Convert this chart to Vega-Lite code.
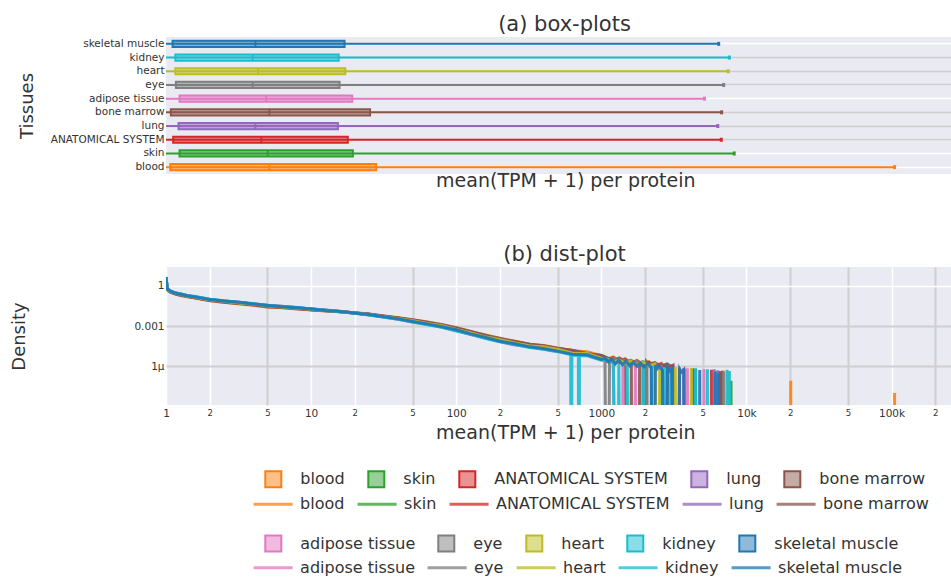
{
"$schema": "https://vega.github.io/schema/vega-lite/v6.json",
"background": "white",
"padding": {"left": 10, "top": 14, "right": 0, "bottom": 0},
"config": {
  "font": "DejaVu Sans",
  "view": {"stroke": null, "fill": "#EAEAF2"},
  "axis": {"labelColor": "#333333", "titleColor": "#333333", "titleFontWeight": "normal", "domain": false, "ticks": false, "labelFontSize": 10.5},
  "legend": {"padding": 0, "labelColor": "#333333", "labelFontSize": 16, "labelLimit": 400},
  "title": {"fontSize": 21, "fontWeight": "normal", "color": "#333333", "baseline": "alphabetic", "offset": 2, "anchor": "middle", "frame": "group", "dx": 6}
},
"datasets": {
"box": [
{"t":"blood","lo":1,"q1":1.07,"med":5.16,"q3":28.1,"hi":105000},
{"t":"skin","lo":1,"q1":1.24,"med":5.02,"q3":19.4,"hi":8240},
{"t":"ANATOMICAL SYSTEM","lo":1,"q1":1.12,"med":4.54,"q3":17.9,"hi":6710},
{"t":"lung","lo":1,"q1":1.22,"med":4.13,"q3":15.3,"hi":6350},
{"t":"bone marrow","lo":1,"q1":1.08,"med":5.16,"q3":25.5,"hi":6750},
{"t":"adipose tissue","lo":1,"q1":1.24,"med":4.9,"q3":19.2,"hi":5140},
{"t":"eye","lo":1,"q1":1.17,"med":3.96,"q3":15.7,"hi":6970},
{"t":"heart","lo":1,"q1":1.16,"med":4.31,"q3":17.2,"hi":7490},
{"t":"kidney","lo":1,"q1":1.16,"med":3.96,"q3":15.5,"hi":7630},
{"t":"skeletal muscle","lo":1,"q1":1.11,"med":4.13,"q3":17.0,"hi":6440}
],
"dist": [
{"t":"blood","x":1,"d":4.3},{"t":"blood","x":1.02,"d":0.53},{"t":"blood","x":1.07,"d":0.34},{"t":"blood","x":1.15,"d":0.25},{"t":"blood","x":1.26,"d":0.2},{"t":"blood","x":1.4,"d":0.15},{"t":"blood","x":1.6,"d":0.121},{"t":"blood","x":2,"d":0.077},{"t":"blood","x":2.5,"d":0.06},{"t":"blood","x":3.2,"d":0.044},{"t":"blood","x":4,"d":0.036},{"t":"blood","x":5,"d":0.027},{"t":"blood","x":6.3,"d":0.023},{"t":"blood","x":8,"d":0.0185},{"t":"blood","x":10,"d":0.0158},{"t":"blood","x":12.6,"d":0.0131},{"t":"blood","x":16,"d":0.0116},{"t":"blood","x":20,"d":0.0093},{"t":"blood","x":25,"d":0.0074},{"t":"blood","x":32,"d":0.0054},{"t":"blood","x":40,"d":0.004},{"t":"blood","x":50,"d":0.0028},{"t":"blood","x":63,"d":0.0019},{"t":"blood","x":80,"d":0.00125},{"t":"blood","x":100,"d":0.00073},{"t":"blood","x":126,"d":0.00038},{"t":"blood","x":160,"d":0.000213},{"t":"blood","x":200,"d":0.000115},{"t":"blood","x":250,"d":7.7e-5},{"t":"blood","x":320,"d":4.4e-5},{"t":"blood","x":400,"d":3.6e-5},{"t":"blood","x":500,"d":2.3e-5},{"t":"blood","x":630,"d":1.42e-5},{"t":"blood","x":800,"d":1.19e-5},{"t":"blood","x":1000,"d":6.1e-6},
{"t":"blood","x":1100,"d":3.6e-6},{"t":"blood","x":1210,"d":5.0e-6},{"t":"blood","x":1330,"d":2.4e-6},{"t":"blood","x":1460,"d":3.6e-6},{"t":"blood","x":1600,"d":1.7e-6},{"t":"blood","x":1760,"d":2.8e-6},{"t":"blood","x":1940,"d":1.3e-6},{"t":"blood","x":2130,"d":2.2e-6},{"t":"blood","x":2340,"d":1.0e-6},{"t":"blood","x":2580,"d":1.6e-6},{"t":"blood","x":2650,"d":1e-30},{"t":"blood","x":2840,"d":1e-30},{"t":"blood","x":2900,"d":9e-7},{"t":"blood","x":2960,"d":1e-30},{"t":"blood","x":3700,"d":1e-30},{"t":"blood","x":3760,"d":6.5e-7},{"t":"blood","x":3820,"d":1e-30},{"t":"blood","x":6800,"d":1e-30},{"t":"blood","x":6880,"d":5e-7},{"t":"blood","x":6960,"d":1e-30},{"t":"blood","x":20000,"d":1e-30},{"t":"blood","x":20200,"d":8.5e-8},{"t":"blood","x":20400,"d":1e-30},{"t":"blood","x":104000,"d":1e-30},{"t":"blood","x":105000,"d":1e-8},{"t":"blood","x":106000,"d":1e-30},
{"t":"skin","x":1,"d":4.2},{"t":"skin","x":1.02,"d":0.56},{"t":"skin","x":1.07,"d":0.39},{"t":"skin","x":1.15,"d":0.28},{"t":"skin","x":1.26,"d":0.235},{"t":"skin","x":1.4,"d":0.174},{"t":"skin","x":1.6,"d":0.141},{"t":"skin","x":2,"d":0.088},{"t":"skin","x":2.5,"d":0.071},{"t":"skin","x":3.2,"d":0.0525},{"t":"skin","x":4,"d":0.0425},{"t":"skin","x":5,"d":0.033},{"t":"skin","x":6.3,"d":0.0263},{"t":"skin","x":8,"d":0.0219},{"t":"skin","x":10,"d":0.0186},{"t":"skin","x":12.6,"d":0.0148},{"t":"skin","x":16,"d":0.0117},{"t":"skin","x":20,"d":0.0095},{"t":"skin","x":25,"d":0.0074},{"t":"skin","x":32,"d":0.005},{"t":"skin","x":40,"d":0.0038},{"t":"skin","x":50,"d":0.0026},{"t":"skin","x":63,"d":0.00166},{"t":"skin","x":80,"d":0.00112},{"t":"skin","x":100,"d":0.00059},{"t":"skin","x":126,"d":0.00035},{"t":"skin","x":160,"d":0.000174},{"t":"skin","x":200,"d":9.2e-5},{"t":"skin","x":250,"d":6.2e-5},{"t":"skin","x":320,"d":4.3e-5},{"t":"skin","x":400,"d":2.7e-5},{"t":"skin","x":500,"d":2.05e-5},{"t":"skin","x":630,"d":1.4e-5},{"t":"skin","x":800,"d":7.9e-6},{"t":"skin","x":1000,"d":6.6e-6},
{"t":"skin","x":1100,"d":4.2e-6},{"t":"skin","x":1210,"d":2.3e-6},{"t":"skin","x":1330,"d":3.5e-6},{"t":"skin","x":1460,"d":1.9e-6},{"t":"skin","x":1600,"d":2.8e-6},{"t":"skin","x":1760,"d":1.5e-6},{"t":"skin","x":1940,"d":2.2e-6},{"t":"skin","x":2130,"d":1.2e-6},{"t":"skin","x":2340,"d":1.7e-6},{"t":"skin","x":2580,"d":9e-7},{"t":"skin","x":2840,"d":1.3e-6},{"t":"skin","x":3000,"d":1e-30},{"t":"skin","x":3120,"d":9e-7},{"t":"skin","x":3240,"d":1e-30},{"t":"skin","x":4320,"d":1e-30},{"t":"skin","x":4380,"d":6e-7},{"t":"skin","x":4440,"d":1e-30},{"t":"skin","x":7780,"d":1e-30},{"t":"skin","x":7834,"d":8.5e-8},{"t":"skin","x":7890,"d":1e-30},
{"t":"ANATOMICAL SYSTEM","x":1,"d":4.25},{"t":"ANATOMICAL SYSTEM","x":1.02,"d":0.54},{"t":"ANATOMICAL SYSTEM","x":1.07,"d":0.37},{"t":"ANATOMICAL SYSTEM","x":1.15,"d":0.263},{"t":"ANATOMICAL SYSTEM","x":1.26,"d":0.214},{"t":"ANATOMICAL SYSTEM","x":1.4,"d":0.17},{"t":"ANATOMICAL SYSTEM","x":1.6,"d":0.129},{"t":"ANATOMICAL SYSTEM","x":2,"d":0.087},{"t":"ANATOMICAL SYSTEM","x":2.5,"d":0.0676},{"t":"ANATOMICAL SYSTEM","x":3.2,"d":0.05},{"t":"ANATOMICAL SYSTEM","x":4,"d":0.0407},{"t":"ANATOMICAL SYSTEM","x":5,"d":0.0295},{"t":"ANATOMICAL SYSTEM","x":6.3,"d":0.0257},{"t":"ANATOMICAL SYSTEM","x":8,"d":0.0214},{"t":"ANATOMICAL SYSTEM","x":10,"d":0.0166},{"t":"ANATOMICAL SYSTEM","x":12.6,"d":0.0141},{"t":"ANATOMICAL SYSTEM","x":16,"d":0.012},{"t":"ANATOMICAL SYSTEM","x":20,"d":0.0091},{"t":"ANATOMICAL SYSTEM","x":25,"d":0.0074},{"t":"ANATOMICAL SYSTEM","x":32,"d":0.0051},{"t":"ANATOMICAL SYSTEM","x":40,"d":0.0038},{"t":"ANATOMICAL SYSTEM","x":50,"d":0.0027},{"t":"ANATOMICAL SYSTEM","x":63,"d":0.00174},{"t":"ANATOMICAL SYSTEM","x":80,"d":0.00115},{"t":"ANATOMICAL SYSTEM","x":100,"d":0.00063},{"t":"ANATOMICAL SYSTEM","x":126,"d":0.00037},{"t":"ANATOMICAL SYSTEM","x":160,"d":0.000182},{"t":"ANATOMICAL SYSTEM","x":200,"d":9.2e-5},{"t":"ANATOMICAL SYSTEM","x":250,"d":6.9e-5},{"t":"ANATOMICAL SYSTEM","x":320,"d":4.0e-5},{"t":"ANATOMICAL SYSTEM","x":400,"d":3.2e-5},{"t":"ANATOMICAL SYSTEM","x":500,"d":2.1e-5},{"t":"ANATOMICAL SYSTEM","x":630,"d":1.48e-5},{"t":"ANATOMICAL SYSTEM","x":800,"d":8.6e-6},{"t":"ANATOMICAL SYSTEM","x":1000,"d":6.2e-6},
{"t":"ANATOMICAL SYSTEM","x":1100,"d":3.0e-6},{"t":"ANATOMICAL SYSTEM","x":1210,"d":4.3e-6},{"t":"ANATOMICAL SYSTEM","x":1330,"d":2.2e-6},{"t":"ANATOMICAL SYSTEM","x":1460,"d":3.3e-6},{"t":"ANATOMICAL SYSTEM","x":1600,"d":1.6e-6},{"t":"ANATOMICAL SYSTEM","x":1760,"d":2.5e-6},{"t":"ANATOMICAL SYSTEM","x":1940,"d":1.3e-6},{"t":"ANATOMICAL SYSTEM","x":2130,"d":2.0e-6},{"t":"ANATOMICAL SYSTEM","x":2340,"d":1.0e-6},{"t":"ANATOMICAL SYSTEM","x":2580,"d":1.5e-6},{"t":"ANATOMICAL SYSTEM","x":2840,"d":8e-7},{"t":"ANATOMICAL SYSTEM","x":3120,"d":1.2e-6},{"t":"ANATOMICAL SYSTEM","x":3250,"d":1e-30},{"t":"ANATOMICAL SYSTEM","x":3400,"d":1e-30},{"t":"ANATOMICAL SYSTEM","x":3450,"d":8e-7},{"t":"ANATOMICAL SYSTEM","x":3500,"d":1e-30},{"t":"ANATOMICAL SYSTEM","x":5700,"d":1e-30},{"t":"ANATOMICAL SYSTEM","x":5741,"d":5.5e-7},{"t":"ANATOMICAL SYSTEM","x":5780,"d":1e-30},{"t":"ANATOMICAL SYSTEM","x":6430,"d":1e-30},{"t":"ANATOMICAL SYSTEM","x":6471,"d":4.5e-7},{"t":"ANATOMICAL SYSTEM","x":6510,"d":1e-30},{"t":"ANATOMICAL SYSTEM","x":6680,"d":1e-30},{"t":"ANATOMICAL SYSTEM","x":6710,"d":3.5e-7},{"t":"ANATOMICAL SYSTEM","x":6740,"d":1e-30},
{"t":"lung","x":1,"d":4.17},{"t":"lung","x":1.02,"d":0.59},{"t":"lung","x":1.07,"d":0.41},{"t":"lung","x":1.15,"d":0.295},{"t":"lung","x":1.26,"d":0.245},{"t":"lung","x":1.4,"d":0.18},{"t":"lung","x":1.6,"d":0.145},{"t":"lung","x":2,"d":0.098},{"t":"lung","x":2.5,"d":0.072},{"t":"lung","x":3.2,"d":0.059},{"t":"lung","x":4,"d":0.0437},{"t":"lung","x":5,"d":0.0347},{"t":"lung","x":6.3,"d":0.03},{"t":"lung","x":8,"d":0.0229},{"t":"lung","x":10,"d":0.0182},{"t":"lung","x":12.6,"d":0.0155},{"t":"lung","x":16,"d":0.0119},{"t":"lung","x":20,"d":0.0093},{"t":"lung","x":25,"d":0.0068},{"t":"lung","x":32,"d":0.0046},{"t":"lung","x":40,"d":0.0032},{"t":"lung","x":50,"d":0.002},{"t":"lung","x":63,"d":0.00138},{"t":"lung","x":80,"d":0.00079},{"t":"lung","x":100,"d":0.00047},{"t":"lung","x":126,"d":0.00023},{"t":"lung","x":160,"d":0.000129},{"t":"lung","x":200,"d":7.0e-5},{"t":"lung","x":250,"d":4.0e-5},{"t":"lung","x":320,"d":2.9e-5},{"t":"lung","x":400,"d":1.9e-5},{"t":"lung","x":500,"d":1.26e-5},{"t":"lung","x":630,"d":1.0e-5},{"t":"lung","x":800,"d":6.3e-6},{"t":"lung","x":1000,"d":5.3e-6},
{"t":"lung","x":1100,"d":2.4e-6},{"t":"lung","x":1210,"d":3.3e-6},{"t":"lung","x":1330,"d":1.7e-6},{"t":"lung","x":1460,"d":2.6e-6},{"t":"lung","x":1600,"d":1.3e-6},{"t":"lung","x":1760,"d":2.0e-6},{"t":"lung","x":1940,"d":1.0e-6},{"t":"lung","x":2130,"d":1.6e-6},{"t":"lung","x":2340,"d":8e-7},{"t":"lung","x":2580,"d":1.2e-6},{"t":"lung","x":2700,"d":1e-30},{"t":"lung","x":2840,"d":9e-7},{"t":"lung","x":2950,"d":1e-30},{"t":"lung","x":3640,"d":1e-30},{"t":"lung","x":3697,"d":7e-7},{"t":"lung","x":3750,"d":1e-30},{"t":"lung","x":5950,"d":1e-30},{"t":"lung","x":6000,"d":6e-7},{"t":"lung","x":6050,"d":1e-30},{"t":"lung","x":6300,"d":1e-30},{"t":"lung","x":6350,"d":5e-7},{"t":"lung","x":6400,"d":1e-30},
{"t":"bone marrow","x":1,"d":4.2},{"t":"bone marrow","x":1.02,"d":0.5},{"t":"bone marrow","x":1.07,"d":0.33},{"t":"bone marrow","x":1.15,"d":0.256},{"t":"bone marrow","x":1.26,"d":0.19},{"t":"bone marrow","x":1.4,"d":0.155},{"t":"bone marrow","x":1.6,"d":0.12},{"t":"bone marrow","x":2,"d":0.081},{"t":"bone marrow","x":2.5,"d":0.058},{"t":"bone marrow","x":3.2,"d":0.0468},{"t":"bone marrow","x":4,"d":0.0363},{"t":"bone marrow","x":5,"d":0.0263},{"t":"bone marrow","x":6.3,"d":0.0239},{"t":"bone marrow","x":8,"d":0.019},{"t":"bone marrow","x":10,"d":0.0162},{"t":"bone marrow","x":12.6,"d":0.0135},{"t":"bone marrow","x":16,"d":0.0117},{"t":"bone marrow","x":20,"d":0.0098},{"t":"bone marrow","x":25,"d":0.0078},{"t":"bone marrow","x":32,"d":0.0056},{"t":"bone marrow","x":40,"d":0.0042},{"t":"bone marrow","x":50,"d":0.0029},{"t":"bone marrow","x":63,"d":0.002},{"t":"bone marrow","x":80,"d":0.00123},{"t":"bone marrow","x":100,"d":0.00074},{"t":"bone marrow","x":126,"d":0.00039},{"t":"bone marrow","x":160,"d":0.0002},{"t":"bone marrow","x":200,"d":0.000122},{"t":"bone marrow","x":250,"d":7.3e-5},{"t":"bone marrow","x":320,"d":4.4e-5},{"t":"bone marrow","x":400,"d":3.4e-5},{"t":"bone marrow","x":500,"d":2.1e-5},{"t":"bone marrow","x":630,"d":1.58e-5},{"t":"bone marrow","x":800,"d":8.8e-6},{"t":"bone marrow","x":1000,"d":6.2e-6},
{"t":"bone marrow","x":1100,"d":4.0e-6},{"t":"bone marrow","x":1210,"d":2.6e-6},{"t":"bone marrow","x":1330,"d":4.2e-6},{"t":"bone marrow","x":1460,"d":2.3e-6},{"t":"bone marrow","x":1540,"d":1e-30},{"t":"bone marrow","x":1580,"d":1e-30},{"t":"bone marrow","x":1610,"d":2.0e-6},{"t":"bone marrow","x":1640,"d":1e-30},{"t":"bone marrow","x":1800,"d":1e-30},{"t":"bone marrow","x":1836,"d":1.7e-6},{"t":"bone marrow","x":1870,"d":1e-30},{"t":"bone marrow","x":2000,"d":1e-30},{"t":"bone marrow","x":2050,"d":2.2e-6},{"t":"bone marrow","x":2130,"d":1.4e-6},{"t":"bone marrow","x":2340,"d":1.9e-6},{"t":"bone marrow","x":2580,"d":1.0e-6},{"t":"bone marrow","x":2840,"d":1.5e-6},{"t":"bone marrow","x":3120,"d":8e-7},{"t":"bone marrow","x":3250,"d":1e-30},{"t":"bone marrow","x":4200,"d":1e-30},{"t":"bone marrow","x":4250,"d":7e-7},{"t":"bone marrow","x":4300,"d":1e-30},{"t":"bone marrow","x":6700,"d":1e-30},{"t":"bone marrow","x":6750,"d":4.5e-7},{"t":"bone marrow","x":6800,"d":1e-30},
{"t":"adipose tissue","x":1,"d":4.3},{"t":"adipose tissue","x":1.02,"d":0.59},{"t":"adipose tissue","x":1.07,"d":0.39},{"t":"adipose tissue","x":1.15,"d":0.3},{"t":"adipose tissue","x":1.26,"d":0.23},{"t":"adipose tissue","x":1.4,"d":0.19},{"t":"adipose tissue","x":1.6,"d":0.141},{"t":"adipose tissue","x":2,"d":0.095},{"t":"adipose tissue","x":2.5,"d":0.069},{"t":"adipose tissue","x":3.2,"d":0.0537},{"t":"adipose tissue","x":4,"d":0.0457},{"t":"adipose tissue","x":5,"d":0.0331},{"t":"adipose tissue","x":6.3,"d":0.0282},{"t":"adipose tissue","x":8,"d":0.024},{"t":"adipose tissue","x":10,"d":0.0182},{"t":"adipose tissue","x":12.6,"d":0.0151},{"t":"adipose tissue","x":16,"d":0.0119},{"t":"adipose tissue","x":20,"d":0.0091},{"t":"adipose tissue","x":25,"d":0.0068},{"t":"adipose tissue","x":32,"d":0.0047},{"t":"adipose tissue","x":40,"d":0.0032},{"t":"adipose tissue","x":50,"d":0.0022},{"t":"adipose tissue","x":63,"d":0.00135},{"t":"adipose tissue","x":80,"d":0.00089},{"t":"adipose tissue","x":100,"d":0.00045},{"t":"adipose tissue","x":126,"d":0.00026},{"t":"adipose tissue","x":160,"d":0.000126},{"t":"adipose tissue","x":200,"d":7.3e-5},{"t":"adipose tissue","x":250,"d":5.0e-5},{"t":"adipose tissue","x":320,"d":2.7e-5},{"t":"adipose tissue","x":400,"d":2.2e-5},{"t":"adipose tissue","x":500,"d":1.4e-5},{"t":"adipose tissue","x":630,"d":8.1e-6},{"t":"adipose tissue","x":800,"d":6.8e-6},{"t":"adipose tissue","x":1000,"d":3.1e-6},
{"t":"adipose tissue","x":1100,"d":2.2e-6},{"t":"adipose tissue","x":1210,"d":3.0e-6},{"t":"adipose tissue","x":1300,"d":1e-30},{"t":"adipose tissue","x":1380,"d":1e-30},{"t":"adipose tissue","x":1409,"d":1.5e-6},{"t":"adipose tissue","x":1440,"d":1e-30},{"t":"adipose tissue","x":1690,"d":1e-30},{"t":"adipose tissue","x":1716,"d":1.3e-6},{"t":"adipose tissue","x":1745,"d":1e-30},{"t":"adipose tissue","x":1900,"d":1e-30},{"t":"adipose tissue","x":1940,"d":1.5e-6},{"t":"adipose tissue","x":2130,"d":9e-7},{"t":"adipose tissue","x":2340,"d":1.3e-6},{"t":"adipose tissue","x":2450,"d":1e-30},{"t":"adipose tissue","x":3880,"d":1e-30},{"t":"adipose tissue","x":3919,"d":7e-7},{"t":"adipose tissue","x":3960,"d":1e-30},{"t":"adipose tissue","x":5050,"d":1e-30},{"t":"adipose tissue","x":5100,"d":6e-7},{"t":"adipose tissue","x":5150,"d":1e-30},
{"t":"eye","x":1,"d":4.17},{"t":"eye","x":1.02,"d":0.56},{"t":"eye","x":1.07,"d":0.37},{"t":"eye","x":1.15,"d":0.29},{"t":"eye","x":1.26,"d":0.224},{"t":"eye","x":1.4,"d":0.166},{"t":"eye","x":1.6,"d":0.141},{"t":"eye","x":2,"d":0.089},{"t":"eye","x":2.5,"d":0.066},{"t":"eye","x":3.2,"d":0.055},{"t":"eye","x":4,"d":0.0417},{"t":"eye","x":5,"d":0.0309},{"t":"eye","x":6.3,"d":0.0269},{"t":"eye","x":8,"d":0.0214},{"t":"eye","x":10,"d":0.0182},{"t":"eye","x":12.6,"d":0.0138},{"t":"eye","x":16,"d":0.0117},{"t":"eye","x":20,"d":0.0095},{"t":"eye","x":25,"d":0.0069},{"t":"eye","x":32,"d":0.005},{"t":"eye","x":40,"d":0.0037},{"t":"eye","x":50,"d":0.0024},{"t":"eye","x":63,"d":0.00151},{"t":"eye","x":80,"d":0.00102},{"t":"eye","x":100,"d":0.00053},{"t":"eye","x":126,"d":0.0003},{"t":"eye","x":160,"d":0.000151},{"t":"eye","x":200,"d":9.2e-5},{"t":"eye","x":250,"d":5.1e-5},{"t":"eye","x":320,"d":3.5e-5},{"t":"eye","x":400,"d":2.2e-5},{"t":"eye","x":500,"d":1.9e-5},{"t":"eye","x":630,"d":9.8e-6},{"t":"eye","x":800,"d":8.8e-6},{"t":"eye","x":1000,"d":4.2e-6},
{"t":"eye","x":1060,"d":3.6e-6},{"t":"eye","x":1099,"d":1e-30},{"t":"eye","x":1140,"d":3.0e-6},{"t":"eye","x":1210,"d":4.0e-6},{"t":"eye","x":1330,"d":2.0e-6},{"t":"eye","x":1460,"d":3.0e-6},{"t":"eye","x":1600,"d":1.5e-6},{"t":"eye","x":1760,"d":2.3e-6},{"t":"eye","x":1940,"d":1.2e-6},{"t":"eye","x":2000,"d":1e-30},{"t":"eye","x":2063,"d":1.1e-6},{"t":"eye","x":2120,"d":1e-30},{"t":"eye","x":2500,"d":1e-30},{"t":"eye","x":2580,"d":1.3e-6},{"t":"eye","x":2700,"d":1e-30},{"t":"eye","x":4400,"d":1e-30},{"t":"eye","x":4470,"d":6.5e-7},{"t":"eye","x":4540,"d":1e-30},{"t":"eye","x":6920,"d":1e-30},{"t":"eye","x":6970,"d":4e-7},{"t":"eye","x":7020,"d":1e-30},
{"t":"heart","x":1,"d":4.27},{"t":"heart","x":1.02,"d":0.575},{"t":"heart","x":1.07,"d":0.38},{"t":"heart","x":1.15,"d":0.295},{"t":"heart","x":1.26,"d":0.229},{"t":"heart","x":1.4,"d":0.174},{"t":"heart","x":1.6,"d":0.145},{"t":"heart","x":2,"d":0.091},{"t":"heart","x":2.5,"d":0.072},{"t":"heart","x":3.2,"d":0.0525},{"t":"heart","x":4,"d":0.0437},{"t":"heart","x":5,"d":0.032},{"t":"heart","x":6.3,"d":0.0263},{"t":"heart","x":8,"d":0.0224},{"t":"heart","x":10,"d":0.0178},{"t":"heart","x":12.6,"d":0.0141},{"t":"heart","x":16,"d":0.0123},{"t":"heart","x":20,"d":0.0093},{"t":"heart","x":25,"d":0.0072},{"t":"heart","x":32,"d":0.0049},{"t":"heart","x":40,"d":0.00355},{"t":"heart","x":50,"d":0.0025},{"t":"heart","x":63,"d":0.00155},{"t":"heart","x":80,"d":0.00107},{"t":"heart","x":100,"d":0.00056},{"t":"heart","x":126,"d":0.00031},{"t":"heart","x":160,"d":0.00015},{"t":"heart","x":200,"d":9.7e-5},{"t":"heart","x":250,"d":5.7e-5},{"t":"heart","x":320,"d":3.3e-5},{"t":"heart","x":400,"d":2.8e-5},{"t":"heart","x":500,"d":1.78e-5},{"t":"heart","x":630,"d":9.3e-6},{"t":"heart","x":800,"d":9.0e-6},{"t":"heart","x":1000,"d":3.9e-6},
{"t":"heart","x":1100,"d":3.4e-6},{"t":"heart","x":1210,"d":1.9e-6},{"t":"heart","x":1330,"d":3.0e-6},{"t":"heart","x":1460,"d":1.6e-6},{"t":"heart","x":1600,"d":2.5e-6},{"t":"heart","x":1760,"d":1.3e-6},{"t":"heart","x":1940,"d":2.0e-6},{"t":"heart","x":2130,"d":1.1e-6},{"t":"heart","x":2340,"d":1.5e-6},{"t":"heart","x":2450,"d":1e-30},{"t":"heart","x":2490,"d":1e-30},{"t":"heart","x":2523,"d":1.0e-6},{"t":"heart","x":2560,"d":1e-30},{"t":"heart","x":3200,"d":1e-30},{"t":"heart","x":3238,"d":9e-7},{"t":"heart","x":3280,"d":1e-30},{"t":"heart","x":4140,"d":1e-30},{"t":"heart","x":4178,"d":7.5e-7},{"t":"heart","x":4220,"d":1e-30},{"t":"heart","x":7440,"d":1e-30},{"t":"heart","x":7490,"d":4.5e-7},{"t":"heart","x":7540,"d":1e-30},
{"t":"kidney","x":1,"d":4.4},{"t":"kidney","x":1.02,"d":0.62},{"t":"kidney","x":1.07,"d":0.42},{"t":"kidney","x":1.15,"d":0.3},{"t":"kidney","x":1.26,"d":0.25},{"t":"kidney","x":1.4,"d":0.19},{"t":"kidney","x":1.6,"d":0.158},{"t":"kidney","x":2,"d":0.098},{"t":"kidney","x":2.5,"d":0.076},{"t":"kidney","x":3.2,"d":0.056},{"t":"kidney","x":4,"d":0.0468},{"t":"kidney","x":5,"d":0.036},{"t":"kidney","x":6.3,"d":0.0288},{"t":"kidney","x":8,"d":0.024},{"t":"kidney","x":10,"d":0.0186},{"t":"kidney","x":12.6,"d":0.0148},{"t":"kidney","x":16,"d":0.0117},{"t":"kidney","x":20,"d":0.0089},{"t":"kidney","x":25,"d":0.0065},{"t":"kidney","x":32,"d":0.0044},{"t":"kidney","x":40,"d":0.0032},{"t":"kidney","x":50,"d":0.002},{"t":"kidney","x":63,"d":0.00126},{"t":"kidney","x":80,"d":0.00081},{"t":"kidney","x":100,"d":0.00043},{"t":"kidney","x":126,"d":0.00024},{"t":"kidney","x":160,"d":0.000115},{"t":"kidney","x":200,"d":6.7e-5},{"t":"kidney","x":250,"d":4.4e-5},{"t":"kidney","x":320,"d":2.5e-5},{"t":"kidney","x":400,"d":1.83e-5},{"t":"kidney","x":500,"d":1.23e-5},{"t":"kidney","x":615,"d":7.5e-6},{"t":"kidney","x":621,"d":1e-30},{"t":"kidney","x":627,"d":6.8e-6},{"t":"kidney","x":630,"d":7.0e-6},{"t":"kidney","x":695,"d":6.0e-6},{"t":"kidney","x":701,"d":1e-30},{"t":"kidney","x":707,"d":6.4e-6},{"t":"kidney","x":800,"d":6.0e-6},{"t":"kidney","x":1000,"d":2.85e-6},
{"t":"kidney","x":1100,"d":3.2e-6},{"t":"kidney","x":1210,"d":1.8e-6},{"t":"kidney","x":1280,"d":1e-30},{"t":"kidney","x":1321,"d":1.4e-6},{"t":"kidney","x":1360,"d":1e-30},{"t":"kidney","x":1480,"d":1e-30},{"t":"kidney","x":1511,"d":1.3e-6},{"t":"kidney","x":1545,"d":1e-30},{"t":"kidney","x":1920,"d":1e-30},{"t":"kidney","x":1958,"d":1.2e-6},{"t":"kidney","x":2000,"d":1e-30},{"t":"kidney","x":2170,"d":1e-30},{"t":"kidney","x":2211,"d":1.1e-6},{"t":"kidney","x":2250,"d":1e-30},{"t":"kidney","x":2650,"d":1e-30},{"t":"kidney","x":2690,"d":9e-7},{"t":"kidney","x":2730,"d":1e-30},{"t":"kidney","x":3000,"d":1e-30},{"t":"kidney","x":3040,"d":8.5e-7},{"t":"kidney","x":3080,"d":1e-30},{"t":"kidney","x":4410,"d":1e-30},{"t":"kidney","x":4454,"d":7e-7},{"t":"kidney","x":4500,"d":1e-30},{"t":"kidney","x":5340,"d":1e-30},{"t":"kidney","x":5387,"d":6e-7},{"t":"kidney","x":5430,"d":1e-30},{"t":"kidney","x":7300,"d":1e-30},{"t":"kidney","x":7350,"d":5.5e-7},{"t":"kidney","x":7400,"d":1e-30},{"t":"kidney","x":7590,"d":1e-30},{"t":"kidney","x":7630,"d":4.5e-7},{"t":"kidney","x":7670,"d":1e-30},
{"t":"skeletal muscle","x":1,"d":4.47},{"t":"skeletal muscle","x":1.02,"d":0.59},{"t":"skeletal muscle","x":1.07,"d":0.4},{"t":"skeletal muscle","x":1.15,"d":0.295},{"t":"skeletal muscle","x":1.26,"d":0.235},{"t":"skeletal muscle","x":1.4,"d":0.182},{"t":"skeletal muscle","x":1.6,"d":0.148},{"t":"skeletal muscle","x":2,"d":0.093},{"t":"skeletal muscle","x":2.5,"d":0.072},{"t":"skeletal muscle","x":3.2,"d":0.058},{"t":"skeletal muscle","x":4,"d":0.0437},{"t":"skeletal muscle","x":5,"d":0.0339},{"t":"skeletal muscle","x":6.3,"d":0.0275},{"t":"skeletal muscle","x":8,"d":0.0234},{"t":"skeletal muscle","x":10,"d":0.0182},{"t":"skeletal muscle","x":12.6,"d":0.0145},{"t":"skeletal muscle","x":16,"d":0.0123},{"t":"skeletal muscle","x":20,"d":0.0093},{"t":"skeletal muscle","x":25,"d":0.0071},{"t":"skeletal muscle","x":32,"d":0.0049},{"t":"skeletal muscle","x":40,"d":0.0034},{"t":"skeletal muscle","x":50,"d":0.0022},{"t":"skeletal muscle","x":63,"d":0.00144},{"t":"skeletal muscle","x":80,"d":0.00089},{"t":"skeletal muscle","x":100,"d":0.00052},{"t":"skeletal muscle","x":126,"d":0.00026},{"t":"skeletal muscle","x":160,"d":0.000141},{"t":"skeletal muscle","x":200,"d":7.3e-5},{"t":"skeletal muscle","x":250,"d":4.9e-5},{"t":"skeletal muscle","x":320,"d":2.8e-5},{"t":"skeletal muscle","x":400,"d":2.1e-5},{"t":"skeletal muscle","x":500,"d":1.34e-5},{"t":"skeletal muscle","x":630,"d":7.9e-6},{"t":"skeletal muscle","x":800,"d":7.1e-6},{"t":"skeletal muscle","x":1000,"d":3.2e-6},
{"t":"skeletal muscle","x":1060,"d":4.0e-6},{"t":"skeletal muscle","x":1120,"d":2.1e-6},{"t":"skeletal muscle","x":1180,"d":3.4e-6},{"t":"skeletal muscle","x":1250,"d":1.5e-6},{"t":"skeletal muscle","x":1320,"d":2.9e-6},{"t":"skeletal muscle","x":1400,"d":1.3e-6},{"t":"skeletal muscle","x":1480,"d":2.4e-6},{"t":"skeletal muscle","x":1570,"d":1.1e-6},{"t":"skeletal muscle","x":1660,"d":2.0e-6},{"t":"skeletal muscle","x":1760,"d":1.0e-6},{"t":"skeletal muscle","x":1860,"d":1.8e-6},{"t":"skeletal muscle","x":1970,"d":9e-7},{"t":"skeletal muscle","x":2090,"d":1.6e-6},{"t":"skeletal muscle","x":2210,"d":8e-7},{"t":"skeletal muscle","x":2290,"d":1e-30},{"t":"skeletal muscle","x":2357,"d":1.2e-6},{"t":"skeletal muscle","x":2430,"d":6.5e-7},{"t":"skeletal muscle","x":2520,"d":1.0e-6},{"t":"skeletal muscle","x":2640,"d":5e-7},{"t":"skeletal muscle","x":2760,"d":1e-30},{"t":"skeletal muscle","x":2853,"d":8e-7},{"t":"skeletal muscle","x":2950,"d":4.5e-7},{"t":"skeletal muscle","x":3060,"d":7e-7},{"t":"skeletal muscle","x":3170,"d":1e-30},{"t":"skeletal muscle","x":3300,"d":1e-30},{"t":"skeletal muscle","x":3467,"d":6e-7},{"t":"skeletal muscle","x":3560,"d":3.6e-7},{"t":"skeletal muscle","x":3700,"d":5.6e-7},{"t":"skeletal muscle","x":3830,"d":1e-30},{"t":"skeletal muscle","x":4700,"d":1e-30},{"t":"skeletal muscle","x":4768,"d":5.2e-7},{"t":"skeletal muscle","x":4840,"d":1e-30},{"t":"skeletal muscle","x":6050,"d":1e-30},{"t":"skeletal muscle","x":6114,"d":4e-7},{"t":"skeletal muscle","x":6180,"d":1e-30},{"t":"skeletal muscle","x":6400,"d":1e-30},{"t":"skeletal muscle","x":6440,"d":3e-7},{"t":"skeletal muscle","x":6480,"d":1e-30}
]
},
"vconcat": [
{
  "width": 785, "height": 137,
  "title": {"text": "(a) box-plots"},
  "data": {"name": "box"},
  "encoding": {
    "y": {"field": "t", "type": "nominal",
      "sort": ["skeletal muscle","kidney","heart","eye","adipose tissue","bone marrow","lung","ANATOMICAL SYSTEM","skin","blood"],
      "scale": {"paddingInner": 0, "paddingOuter": 0},
      "axis": {"title": "Tissues", "titleFontSize": 18, "titleX": -134, "titleY": 68.5, "titleBaseline": "alphabetic", "labelFontSize": 10.5, "labelPadding": 2, "grid": true,
        "gridColor": {"condition": {"test": "indexof(['kidney','heart','eye','bone marrow','lung','ANATOMICAL SYSTEM'], datum.value) >= 0", "value": "#cfcfcf"}, "value": "#ffffff"},
        "gridWidth": 1.5}}
  },
  "layer": [
    {"mark": {"type": "rule", "strokeWidth": 2},
     "encoding": {
       "x": {"field": "lo", "type": "quantitative", "scale": {"type": "log", "domain": [1, 257000], "nice": false},
         "axis": {"labels": false, "ticks": false, "domain": false, "grid": false, "title": "mean(TPM + 1) per protein", "titleFontSize": 19, "titleX": 399.3, "titleY": 12, "titleBaseline": "alphabetic"}},
       "x2": {"field": "hi"},
       "stroke": {"field": "t", "type": "nominal", "legend": null, "scale": {"domain": ["blood","skin","ANATOMICAL SYSTEM","lung","bone marrow","adipose tissue","eye","heart","kidney","skeletal muscle"], "range": ["#ff7f0e","#2ca02c","#d62728","#9467bd","#8c564b","#e377c2","#7f7f7f","#bcbd22","#17becf","#1f77b4"]}}
     }},
    {"mark": {"type": "bar", "height": {"band": 0.45}, "fillOpacity": 0.5, "strokeWidth": 2},
     "encoding": {
       "x": {"field": "q1", "type": "quantitative", "scale": {"type": "log", "domain": [1, 257000], "nice": false},
         "axis": {"labels": false, "ticks": false, "domain": false, "grid": false, "title": "mean(TPM + 1) per protein", "titleFontSize": 19, "titleX": 399.3, "titleY": 12, "titleBaseline": "alphabetic"}},
       "x2": {"field": "q3"},
       "fill": {"field": "t", "type": "nominal", "legend": null, "scale": {"domain": ["blood","skin","ANATOMICAL SYSTEM","lung","bone marrow","adipose tissue","eye","heart","kidney","skeletal muscle"], "range": ["#ff7f0e","#2ca02c","#d62728","#9467bd","#8c564b","#e377c2","#7f7f7f","#bcbd22","#17becf","#1f77b4"]}},
       "stroke": {"field": "t", "type": "nominal", "legend": null}
     }},
    {"mark": {"type": "tick", "thickness": 2, "size": 7, "orient": "vertical", "opacity": 1},
     "encoding": {
       "x": {"field": "med", "type": "quantitative", "scale": {"type": "log", "domain": [1, 257000], "nice": false},
         "axis": {"labels": false, "ticks": false, "domain": false, "grid": false, "title": "mean(TPM + 1) per protein", "titleFontSize": 19, "titleX": 399.3, "titleY": 12, "titleBaseline": "alphabetic"}},
       "fill": {"field": "t", "type": "nominal", "legend": null}
     }},
    {"mark": {"type": "tick", "thickness": 3, "size": 4, "orient": "vertical", "opacity": 1},
     "encoding": {
       "x": {"field": "hi", "type": "quantitative", "scale": {"type": "log", "domain": [1, 257000], "nice": false},
         "axis": {"labels": false, "ticks": false, "domain": false, "grid": false, "title": "mean(TPM + 1) per protein", "titleFontSize": 19, "titleX": 399.3, "titleY": 12, "titleBaseline": "alphabetic"}},
       "fill": {"field": "t", "type": "nominal", "legend": null}
     }}
  ]
},
{
  "width": 785, "height": 138,
  "title": {"text": "(b) dist-plot"},
  "data": {"name": "dist"},
  "encoding": {
    "x": {"field": "x", "type": "quantitative", "scale": {"type": "log", "domain": [1, 257000], "nice": false},
      "axis": {"values": [1,2,5,10,20,50,100,200,500,1000,2000,5000,10000,20000,50000,100000,200000],
        "format": "~s",
        "labelExpr": "datum.value == 1000 ? '1000' : indexof([2,20,200,2000,20000,200000], datum.value) >= 0 ? '2' : indexof([5,50,500,5000,50000], datum.value) >= 0 ? '5' : datum.label",
        "labelFontSize": {"condition": {"test": "indexof([1,10,100,1000,10000,100000], datum.value) >= 0", "value": 10.5}, "value": 8.5},
        "labelPadding": 3, "labelFlush": false, "labelOverlap": false, "grid": true,
        "gridColor": {"condition": {"test": "indexof([5,50,500,2000,5000,20000,50000,200000], datum.value) >= 0", "value": "#cfcfcf"}, "value": "#ffffff"},
        "gridWidth": {"condition": {"test": "indexof([5,50,500,2000,5000,20000,50000,200000], datum.value) >= 0", "value": 2}, "value": 1.5},
        "title": "mean(TPM + 1) per protein", "titleFontSize": 19, "titleX": 399.3, "titleY": 33.5, "titleBaseline": "alphabetic"}},
    "y": {"field": "d", "type": "quantitative", "scale": {"type": "log", "domain": [1.3e-9, 25], "nice": false},
      "axis": {"values": [0.000001, 0.001, 1],
        "labelExpr": "datum.value > 0.5 ? '1' : datum.value > 0.0005 ? '0.001' : '1μ'",
        "labelFontSize": 10.5, "labelPadding": 2, "labelFlush": false, "grid": true,
        "gridColor": {"condition": {"test": "datum.value > 0.5", "value": "#ffffff"}, "value": "#cfcfcf"},
        "gridWidth": {"condition": {"test": "datum.value > 0.5", "value": 1.5}, "value": 2},
        "title": "Density", "titleFontSize": 18, "titleX": -141.9, "titleY": 69, "titleBaseline": "alphabetic"}}
  },
  "layer": [
    {"transform": [{"filter": {"field": "t", "oneOf": ["blood","skin","ANATOMICAL SYSTEM","lung","bone marrow"]}}, {"filter": "datum.d < 1e-20"}],
     "mark": {"type": "point", "shape": "square", "filled": true, "clip": true, "size": 10},
     "encoding": {"fill": {"field": "t", "type": "nominal",
       "scale": {"domain": ["blood","skin","ANATOMICAL SYSTEM","lung","bone marrow"], "range": ["#ffbf86","#96d096","#eb9393","#cab3de","#c5aba5"]},
       "legend": {"orient": "none", "legendX": 98.3, "legendY": 203.3, "direction": "horizontal", "columns": 5, "title": null, "symbolType": "square", "symbolSize": 256, "symbolStrokeWidth": 2, "symbolStrokeColor": "transparent", "symbolOpacity": 1, "labelOffset": 18, "columnPadding": 19}}}},
    {"transform": [{"filter": {"field": "t", "oneOf": ["blood","skin","ANATOMICAL SYSTEM","lung","bone marrow"]}}, {"filter": "datum.d < 1e-20"}],
     "mark": {"type": "point", "shape": "square", "filled": false, "clip": true, "size": 10},
     "encoding": {"stroke": {"field": "t", "type": "nominal",
       "scale": {"domain": ["blood","skin","ANATOMICAL SYSTEM","lung","bone marrow"], "range": ["#ff7f0e","#2ca02c","#d62728","#9467bd","#8c564b"]},
       "legend": {"orient": "none", "legendX": 98.3, "legendY": 203.3, "direction": "horizontal", "columns": 5, "title": null, "symbolType": "square", "symbolSize": 256, "symbolStrokeWidth": 2, "symbolFillColor": "transparent", "symbolOpacity": 1, "labelOffset": 18, "columnPadding": 19, "labelOpacity": 0}}}},
    {"transform": [{"filter": {"field": "t", "oneOf": ["blood","skin","ANATOMICAL SYSTEM","lung","bone marrow"]}}],
     "mark": {"type": "line", "clip": true, "strokeWidth": 3, "opacity": 0.9},
     "encoding": {"stroke": {"field": "t", "type": "nominal",
       "scale": {"domain": ["blood","skin","ANATOMICAL SYSTEM","lung","bone marrow"], "range": ["#ff7f0e","#2ca02c","#d62728","#9467bd","#8c564b"]},
       "legend": {"orient": "none", "legendX": 86.1, "legendY": 227.3, "direction": "horizontal", "columns": 5, "title": null, "symbolType": "stroke", "symbolSize": 1521, "symbolStrokeWidth": 3, "symbolOpacity": 0.75, "labelOffset": 6, "columnPadding": 11, "clipHeight": 20}}}},
    {"transform": [{"filter": {"field": "t", "oneOf": ["adipose tissue","eye","heart","kidney","skeletal muscle"]}}, {"filter": "datum.d < 1e-20"}],
     "mark": {"type": "point", "shape": "square", "filled": true, "clip": true, "size": 10},
     "encoding": {"fill": {"field": "t", "type": "nominal",
       "scale": {"domain": ["adipose tissue","eye","heart","kidney","skeletal muscle"], "range": ["#f1bbe0","#bfbfbf","#dede90","#8bdee7","#8fbbd9"]},
       "legend": {"orient": "none", "legendX": 98.3, "legendY": 267.5, "direction": "horizontal", "columns": 5, "title": null, "symbolType": "square", "symbolSize": 256, "symbolStrokeWidth": 2, "symbolStrokeColor": "transparent", "symbolOpacity": 1, "labelOffset": 18, "columnPadding": 19}}}},
    {"transform": [{"filter": {"field": "t", "oneOf": ["adipose tissue","eye","heart","kidney","skeletal muscle"]}}, {"filter": "datum.d < 1e-20"}],
     "mark": {"type": "point", "shape": "square", "filled": false, "clip": true, "size": 10},
     "encoding": {"stroke": {"field": "t", "type": "nominal",
       "scale": {"domain": ["adipose tissue","eye","heart","kidney","skeletal muscle"], "range": ["#e377c2","#7f7f7f","#bcbd22","#17becf","#1f77b4"]},
       "legend": {"orient": "none", "legendX": 98.3, "legendY": 267.5, "direction": "horizontal", "columns": 5, "title": null, "symbolType": "square", "symbolSize": 256, "symbolStrokeWidth": 2, "symbolFillColor": "transparent", "symbolOpacity": 1, "labelOffset": 18, "columnPadding": 19, "labelOpacity": 0}}}},
    {"transform": [{"filter": {"field": "t", "oneOf": ["adipose tissue","eye","heart","kidney","skeletal muscle"]}}],
     "mark": {"type": "line", "clip": true, "strokeWidth": 3, "opacity": 0.9},
     "encoding": {"stroke": {"field": "t", "type": "nominal",
       "scale": {"domain": ["adipose tissue","eye","heart","kidney","skeletal muscle"], "range": ["#e377c2","#7f7f7f","#bcbd22","#17becf","#1f77b4"]},
       "legend": {"orient": "none", "legendX": 86.1, "legendY": 290.7, "direction": "horizontal", "columns": 5, "title": null, "symbolType": "stroke", "symbolSize": 1521, "symbolStrokeWidth": 3, "symbolOpacity": 0.75, "labelOffset": 6, "columnPadding": 11, "clipHeight": 20}}}}
  ],
  "resolve": {"scale": {"fill": "independent", "stroke": "independent"}, "legend": {"fill": "independent", "stroke": "independent"}}
}
],
"spacing": 93,
"bounds": "flush",
"resolve": {"scale": {"fill": "independent", "stroke": "independent"}, "legend": {"fill": "independent", "stroke": "independent"}}
}
